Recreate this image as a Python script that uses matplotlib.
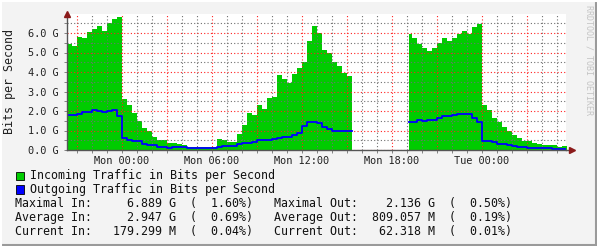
import numpy as np
import matplotlib
matplotlib.use('Agg')
import matplotlib.pyplot as plt
from matplotlib.ticker import MultipleLocator, FuncFormatter
from matplotlib.patches import Rectangle
from matplotlib.lines import Line2D

# hours relative to Mon 00:00, 20 minute samples (values in Gbit/s)
step_h = 1/3
t1_start = -11/3
t2_first = 19.15
t2_start = 19 + 1/3

in_1 = [5.44, 5.35, 5.79, 5.72, 6.03, 6.21, 6.35, 6.10, 6.50, 6.72, 6.80,
        2.62, 2.31, 1.88, 1.49, 1.11, 0.97, 0.68, 0.53, 0.51, 0.34, 0.34,
        0.29, 0.26, 0.17, 0.17, 0.17, 0.14, 0.14, 0.17, 0.55, 0.51, 0.40,
        0.43, 0.80, 1.30, 1.90, 1.82, 2.30, 2.10, 2.65, 2.74, 3.85, 3.65,
        3.45, 3.90, 4.19, 4.50, 5.60, 6.36, 5.98, 5.13, 5.00, 4.50, 4.30,
        3.96, 3.78]
out_1 = [1.79, 1.79, 1.85, 1.97, 1.97, 2.03, 2.00, 1.93, 2.00, 2.05, 1.75,
         0.63, 0.51, 0.48, 0.44, 0.30, 0.25, 0.24, 0.15, 0.14, 0.09, 0.14,
         0.14, 0.14, 0.12, 0.12, 0.12, 0.12, 0.12, 0.12, 0.17, 0.20, 0.20,
         0.20, 0.30, 0.34, 0.34, 0.39, 0.51, 0.51, 0.51, 0.55, 0.63, 0.66,
         0.68, 0.75, 0.85, 1.25, 1.45, 1.45, 1.38, 1.20, 1.07, 0.97, 0.95,
         0.97, 0.97]
in_2 = [5.93, 5.73, 5.42, 5.21, 5.08, 5.21, 5.47, 5.73, 5.59, 5.73, 5.93,
        6.10, 5.93, 6.32, 6.45,
        2.31, 2.05, 1.62, 1.45, 1.20, 0.97, 0.77, 0.60, 0.46, 0.46, 0.34,
        0.29, 0.24, 0.26, 0.24, 0.17, 0.18]
out_2 = [1.42, 1.45, 1.54, 1.49, 1.54, 1.54, 1.66, 1.74, 1.74, 1.79, 1.83,
         1.86, 1.83, 1.66, 1.42,
         0.46, 0.46, 0.39, 0.29, 0.29, 0.26, 0.21, 0.17, 0.17, 0.12, 0.09,
         0.08, 0.08, 0.08, 0.07, 0.06, 0.06]

legend_labels = ['Incoming Traffic in Bits per Second',
                 'Outgoing Traffic in Bits per Second']
stats_lines = [
    'Maximal In:     6.889 G  (  1.60%)   Maximal Out:    2.136 G  (  0.50%)',
    'Average In:     2.947 G  (  0.69%)   Average Out:  809.057 M  (  0.19%)',
    'Current In:   179.299 M  (  0.04%)   Current Out:   62.318 M  (  0.01%)',
]

GREEN = '#00cc00'
BLUE = '#0000ff'
BG = '#f3f3f3'
W, H = 597, 246


def fx(px):
    return px / W


def fy(py):
    return 1 - py / H


def with_edges(start, vals):
    t = start + step_h * np.arange(len(vals) + 1)
    return t, list(vals) + [vals[-1]]


plt.rcParams['font.family'] = 'DejaVu Sans Mono'

fig = plt.figure(figsize=(W / 100, H / 100), dpi=100, facecolor=BG)
ax = fig.add_axes([fx(67), fy(150), fx(499), 136 / H])
ax.set_facecolor('white')

t1, i1 = with_edges(t1_start, in_1)
_, o1 = with_edges(t1_start, out_1)
t2 = np.concatenate([[t2_first], t2_start + step_h * np.arange(len(in_2))])
i2 = in_2 + [in_2[-1]]
o2 = out_2 + [out_2[-1]]

for t, i, o in [(t1, i1, o1), (t2, i2, o2)]:
    ax.fill_between(t, 0, i, step='post', color=GREEN, lw=0, zorder=1)
    ax.step(t, o, where='post', color=BLUE, lw=1.3, zorder=3)

ax.set_xlim(t1_start, t1_start + 499 / 15)
ax.set_ylim(0, 136 / 19.5)

ax.xaxis.set_major_locator(MultipleLocator(3))
ax.xaxis.set_minor_locator(MultipleLocator(1))
ax.yaxis.set_major_locator(MultipleLocator(1))
ax.yaxis.set_minor_locator(MultipleLocator(0.5))


def fmt_x(h, pos):
    h = int(round(h))
    if h % 6:
        return ''
    day = 'Mon' if h < 24 else 'Tue'
    return '%s %02d:00' % (day, h % 24)


ax.xaxis.set_major_formatter(FuncFormatter(fmt_x))
ax.yaxis.set_major_formatter(FuncFormatter(lambda v, p: '%.1f G' % v))

ax.set_axisbelow(False)
ax.grid(which='major', color='#ff2020', linestyle=(0, (1, 2)), lw=0.8)
ax.grid(which='minor', color='#707070', linestyle=(0, (1, 2)), lw=0.8)

ax.tick_params(which='both', length=2, width=0.6, color='#707070',
               labelsize=7.4, labelcolor='#222222', pad=4)
ax.tick_params(axis='x', pad=2.5)

for s in ['top', 'right']:
    ax.spines[s].set_visible(False)
for s in ['left', 'bottom']:
    ax.spines[s].set_color('#555555')
    ax.spines[s].set_linewidth(1.0)
    ax.spines[s].set_zorder(4)

# axis arrows
ax.plot([0], [1.0], marker='^', ms=5, color='#8b1a1a', transform=ax.transAxes,
        clip_on=False, zorder=5)
ax.plot([1.012], [0], marker='>', ms=5, color='#8b1a1a', transform=ax.transAxes,
        clip_on=False, zorder=5)
ax.add_line(Line2D([1.0, 1.012], [0, 0], color='#555555', lw=1.0,
                   transform=ax.transAxes, clip_on=False))

ax.set_ylabel('Bits per Second', fontsize=8.4, color='#222222')
ax.yaxis.set_label_coords(-51 / 499, 0.5)

# legend
for k, (lab, col) in enumerate(zip(legend_labels, [GREEN, BLUE])):
    yc = 176 + 13.5 * k
    fig.patches.append(Rectangle((fx(15.5), fy(yc + 4.2)), fx(8), 8.4 / H,
                                 facecolor=col, edgecolor='black', lw=0.6,
                                 transform=fig.transFigure, figure=fig))
    fig.text(fx(30), fy(yc), lab, fontsize=8.4, va='center', ha='left',
             color='#111111')

for k, line in enumerate(stats_lines):
    fig.text(fx(15), fy(204 + 14 * k), line, fontsize=8.4, va='center',
             ha='left', color='#111111')

fig.text(fx(589), fy(5), 'RRDTOOL / TOBI OETIKER', rotation=270, fontsize=6,
         va='top', ha='center', color='#c4c4c4')

# 3d frame
fig.add_artist(Line2D([0, 1], [fy(244.5), fy(244.5)], color='#9a9a9a', lw=1.5,
                      transform=fig.transFigure))
fig.add_artist(Line2D([fx(595.5), fx(595.5)], [0, 1], color='#9a9a9a', lw=1.5,
                      transform=fig.transFigure))
fig.add_artist(Line2D([0, 1], [fy(0.7), fy(0.7)], color='white', lw=1.5,
                      transform=fig.transFigure))
fig.add_artist(Line2D([fx(0.7), fx(0.7)], [0, 1], color='white', lw=1.5,
                      transform=fig.transFigure))

fig.savefig('out.png', dpi=100, facecolor=BG)
